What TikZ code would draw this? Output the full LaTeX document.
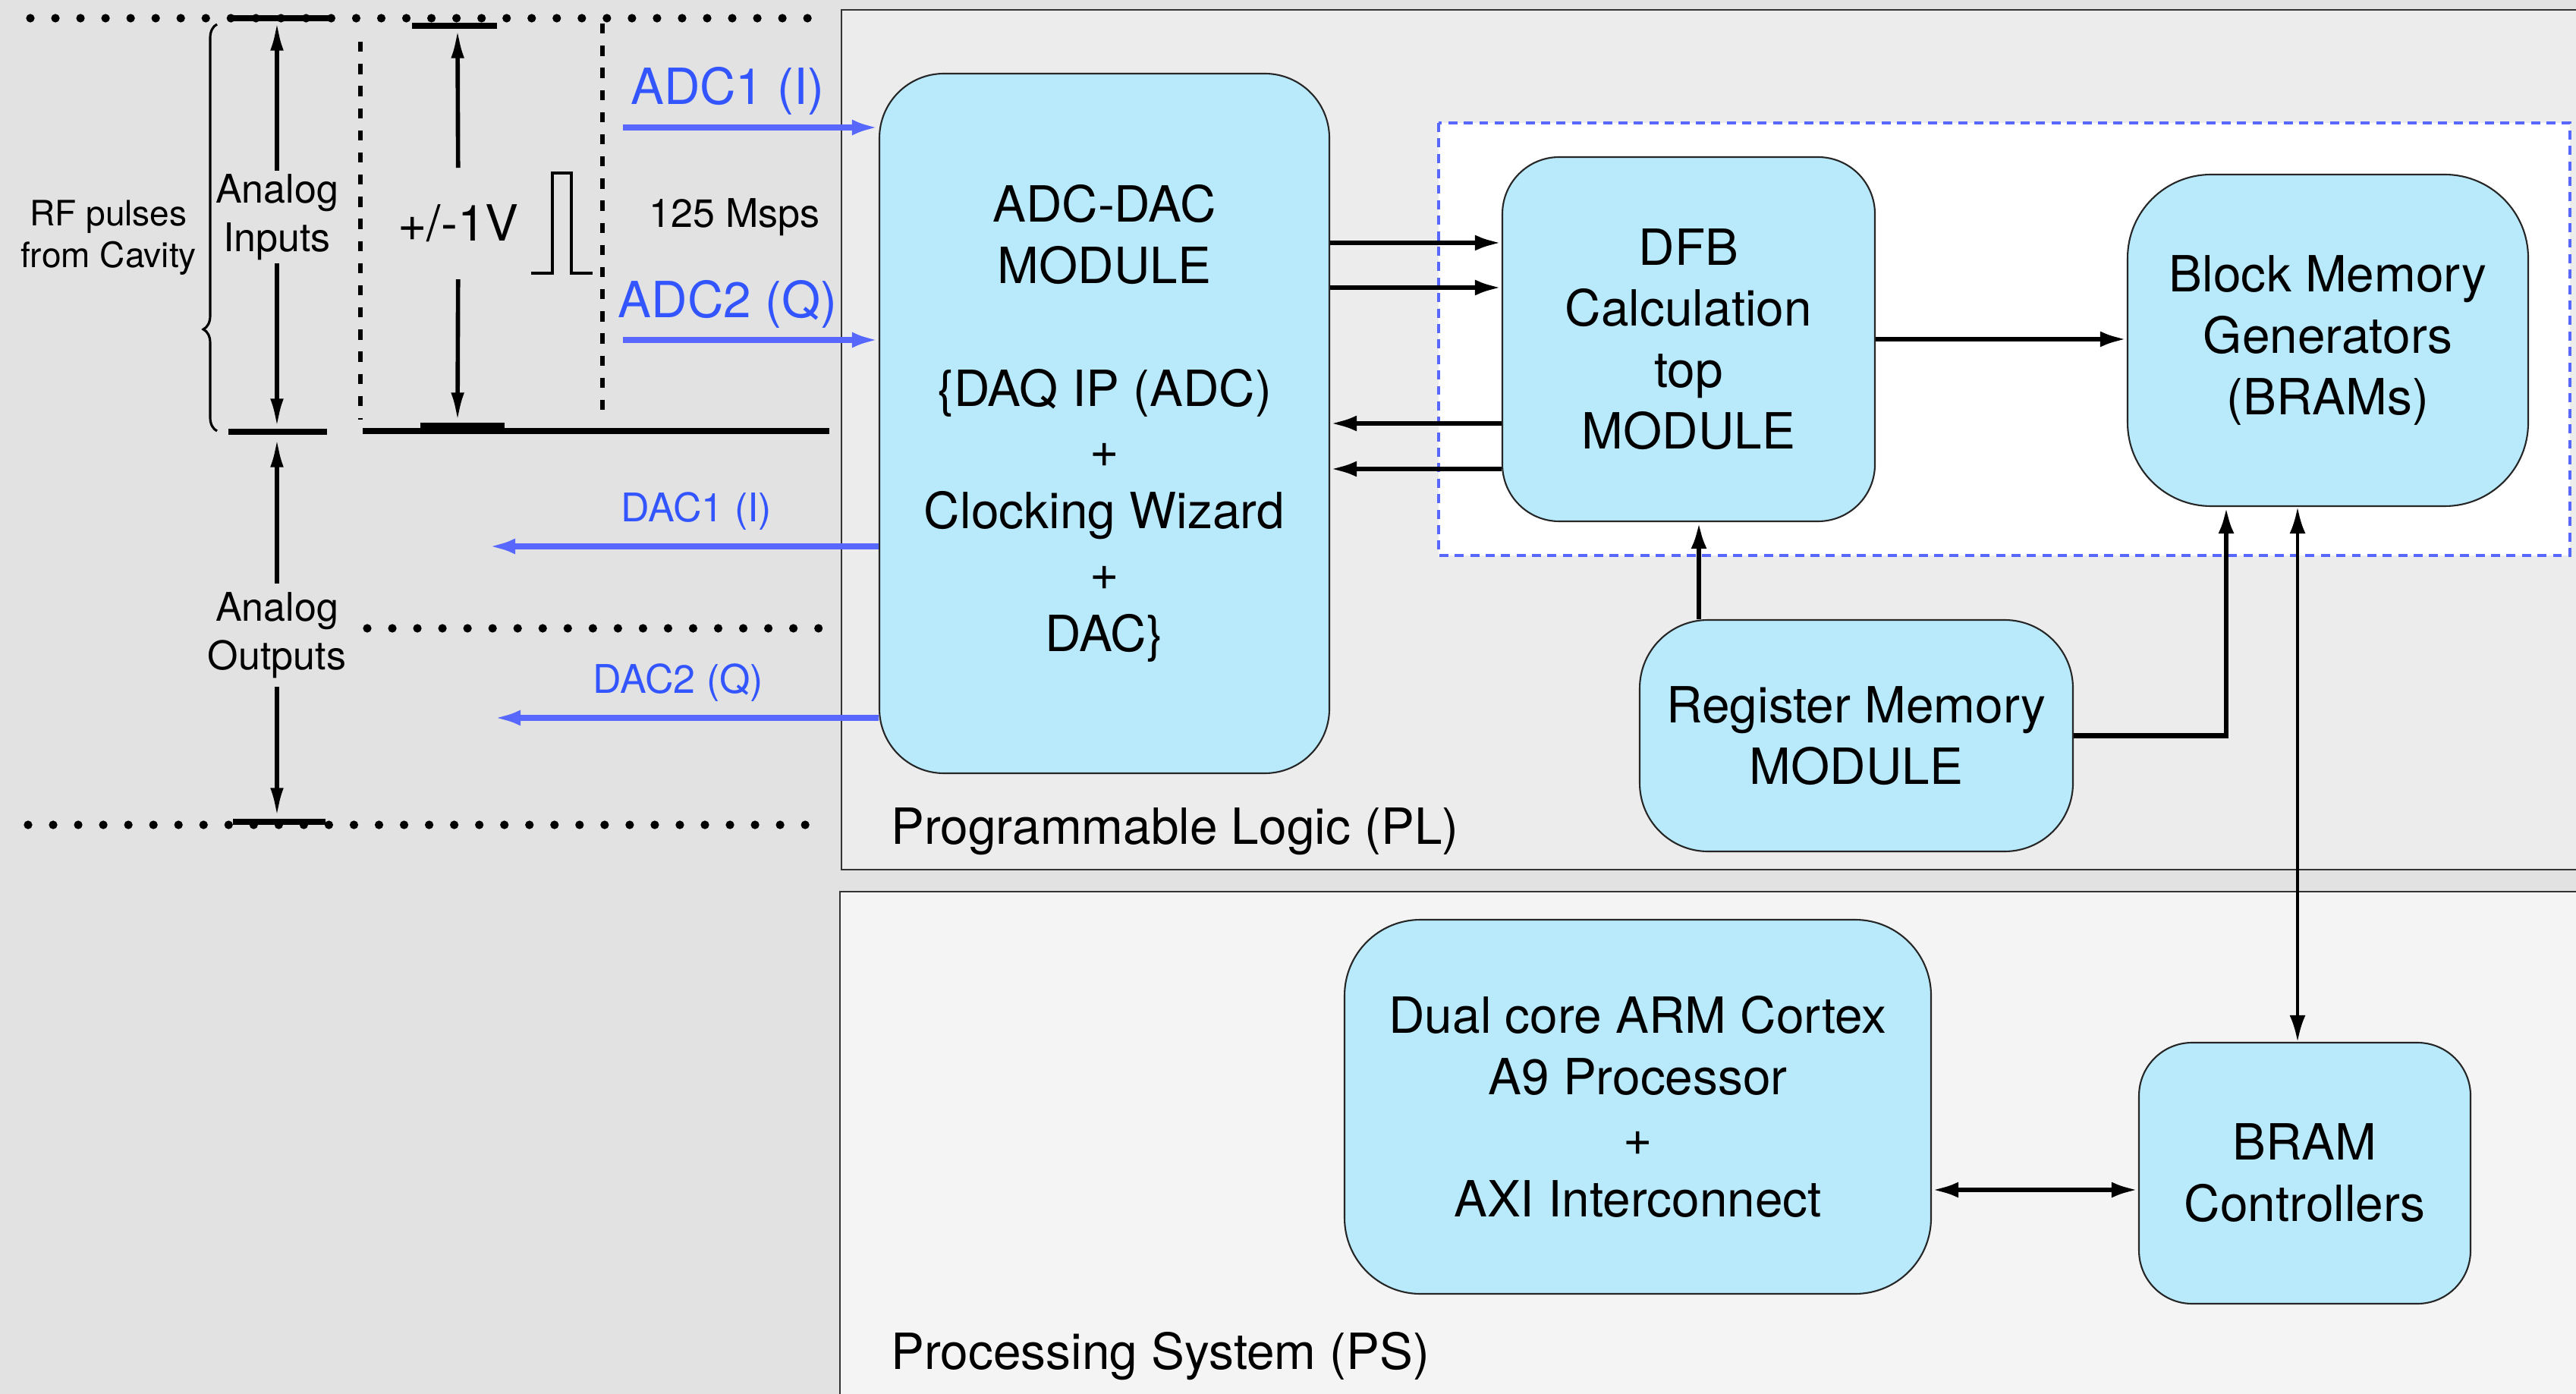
\documentclass[tikz,border=0pt]{standalone}
\usepackage{fontspec}
\setmainfont{TeX Gyre Heros}
\usetikzlibrary{arrows.meta,decorations.pathreplacing}

\definecolor{paper}{RGB}{226,226,226}
\definecolor{plgray}{RGB}{236,236,236}
\definecolor{psgray}{RGB}{244,244,244}
\definecolor{modfill}{RGB}{184,234,252}
\definecolor{sigblue}{RGB}{88,104,255}
\definecolor{labblue}{RGB}{50,85,255}

\newcommand{\bigtxt}{\fontsize{18.7}{23}\selectfont}
\newcommand{\midtxt}{\fontsize{14.8}{18.3}\selectfont}
\newcommand{\smalltxt}{\fontsize{13.1}{15.6}\selectfont}

\begin{document}
\begin{tikzpicture}[>={Latex[length=10pt,width=6pt]},
    module/.style={draw=black!85, line width=0.6pt, fill=modfill, align=center, font=\bigtxt, inner sep=0pt},
    link/.style={line width=1.8pt},
    sig/.style={sigblue, line width=2.1pt},
    dimarrow/.style={line width=1.6pt, -{Latex[length=11pt,width=5pt]}},
    bar/.style={line width=2.2pt},
    dots/.style={line width=3.2pt, line cap=round, dash pattern=on 0pt off 9.4pt},
    dashes/.style={line width=1.7pt, dash pattern=on 3.8pt off 4.5pt}]

\useasboundingbox (0,0) rectangle (33.95,-18.37);
\clip (0,0) rectangle (33.95,-18.37);
\fill[paper] (0,0) rectangle (33.95,-18.37);

% PL and PS areas
\draw[line width=0.6pt, draw=black!80, fill=plgray] (11.09,-0.13) rectangle (34.5,-11.46);
\draw[line width=0.6pt, draw=black!80, fill=psgray] (11.07,-11.75) rectangle (34.5,-18.8);
\draw[sigblue, line width=0.9pt, dash pattern=on 3.4pt off 2.4pt, fill=white] (18.96,-1.62) rectangle (33.87,-7.32);

\node[anchor=base west, font=\bigtxt] (pl) at (11.62,-11.12) {Programmable Logic (PL)};
\node[anchor=base west, font=\bigtxt] (ps) at (11.62,-18.04) {Processing System (PS)};

% modules
\node[module, minimum width=5.93cm, minimum height=9.22cm, rounded corners=0.85cm] (adc) at (14.555,-5.58)
    {ADC-DAC\\MODULE\\[23pt]\{DAQ IP (ADC)\\+\\Clocking Wizard\\+\\DAC\}};
\node[module, minimum width=4.91cm, minimum height=4.80cm, rounded corners=0.75cm] (dfb) at (22.255,-4.47)
    {DFB\\Calculation\\top\\MODULE};
\node[module, minimum width=5.28cm, minimum height=4.37cm, rounded corners=1.1cm] (bram) at (30.68,-4.485)
    {Block Memory\\Generators\\(BRAMs)};
\node[module, minimum width=5.71cm, minimum height=3.05cm, rounded corners=0.9cm] (reg) at (24.465,-9.695)
    {Register Memory\\MODULE};
\node[module, minimum width=7.73cm, minimum height=4.93cm, rounded corners=1.0cm] (cpu) at (21.585,-14.585)
    {Dual core ARM Cortex\\A9 Processor\\+\\AXI Interconnect};
\node[module, minimum width=4.37cm, minimum height=3.44cm, rounded corners=0.7cm] (ctrl) at (30.375,-15.46)
    {BRAM\\Controllers};

% data paths
\draw[link,->] (adc.east |- 0,-3.20) -- (dfb.west |- 0,-3.20);
\draw[link,->] (adc.east |- 0,-3.79) -- (dfb.west |- 0,-3.79);
\draw[link,->] (dfb.west |- 0,-5.58) -- (adc.east |- 0,-5.58);
\draw[link,->] (dfb.west |- 0,-6.18) -- (adc.east |- 0,-6.18);
\draw[link,->] (dfb.east) -- (bram.west |- dfb.east);
\draw[link,->] (reg.north -| 22.39,0) -- (dfb.south -| 22.39,0);
\draw[link,->] (reg.east) -| ([xshift=-1.34cm]bram.south);
\draw[line width=1.3pt,<->] (ctrl.north -| 30.28,0) -- (bram.south -| 30.28,0);
\draw[link,<->] (cpu.east |- 0,-15.68) -- (ctrl.west |- 0,-15.68);

% analog side
\draw[dots] (0.40,-0.24) -- (10.93,-0.24);
\draw[dots] (4.84,-8.28) -- (10.93,-8.28);
\draw[dots] (0.37,-10.87) -- (10.93,-10.87);
\draw[dashes] (4.75,-0.55) -- (4.75,-5.53);
\draw[dashes] (7.94,-0.31) -- (7.94,-5.53);
\draw[bar] (4.78,-5.68) -- (10.93,-5.68);

\draw[bar] (3.01,-0.24) -- (4.33,-0.24);
\draw[bar] (3.01,-5.69) -- (4.31,-5.69);
\draw[bar] (5.43,-0.34) -- (6.55,-0.34);
\draw[bar] (5.54,-5.61) -- (6.65,-5.61);
\draw[bar] (3.07,-10.83) -- (4.29,-10.83);

\draw[line width=0.9pt, decorate, decoration={brace, amplitude=0.18cm, aspect=0.25}] (2.86,-5.68) -- (2.86,-0.32);
\draw[line width=1pt] (7.00,-3.60) -- (7.28,-3.60) -- (7.28,-2.28) -- (7.53,-2.28) -- (7.53,-3.60) -- (7.81,-3.60);

\node[align=center, font=\smalltxt] (rf) at (1.43,-3.13) {RF pulses\\from Cavity};
\node[align=center, font=\midtxt, inner sep=1pt] (ain) at (3.65,-2.86) {Analog\\Inputs};
\node[align=center, font=\midtxt, inner sep=3pt] (aout) at (3.65,-8.37) {Analog\\Outputs};
\node[anchor=base, font=\bigtxt, inner xsep=1pt, inner ysep=13.7pt] (volt) at (6.04,-3.18) {+/-1V};
\node[anchor=base, font=\midtxt] (msps) at (9.68,-3.00) {125 Msps};

\coordinate (inTop) at (3.65,-0.28);
\coordinate (inBot) at (3.65,-5.64);
\coordinate (vTop) at (6.03,-0.38);
\coordinate (vBot) at (6.03,-5.56);
\coordinate (outTop) at (3.65,-5.77);
\coordinate (outBot) at (3.65,-10.77);
\draw[dimarrow] (ain) -- (inTop);
\draw[dimarrow] (ain) -- (inBot);
\draw[dimarrow] (volt) -- (vTop);
\draw[dimarrow] (volt) -- (vBot);
\draw[dimarrow] (aout) -- (outTop);
\draw[dimarrow] (aout) -- (outBot);

% ADC / DAC channels
\node[anchor=base, font=\bigtxt, text=labblue] (adc1) at (9.59,-1.38) {ADC1 (I)};
\node[anchor=base, font=\bigtxt, text=labblue] (adc2) at (9.59,-4.19) {ADC2 (Q)};
\node[anchor=base, font=\midtxt, text=labblue] (dac1) at (9.18,-6.875) {DAC1 (I)};
\node[anchor=base, font=\midtxt, text=labblue] (dac2) at (8.94,-9.136) {DAC2 (Q)};

\coordinate (adc1in) at (8.21,-1.68);
\coordinate (adc2in) at (8.21,-4.48);
\coordinate (dac1out) at (6.44,-7.20);
\coordinate (dac2out) at (6.51,-9.46);
\draw[sig,->] (adc1in) -- (adc.west |- adc1in);
\draw[sig,->] (adc2in) -- (adc.west |- adc2in);
\draw[sig,->] (adc.west |- dac1out) -- (dac1out);
\draw[sig,->] (adc.west |- dac2out) -- (dac2out);
\end{tikzpicture}
\end{document}
